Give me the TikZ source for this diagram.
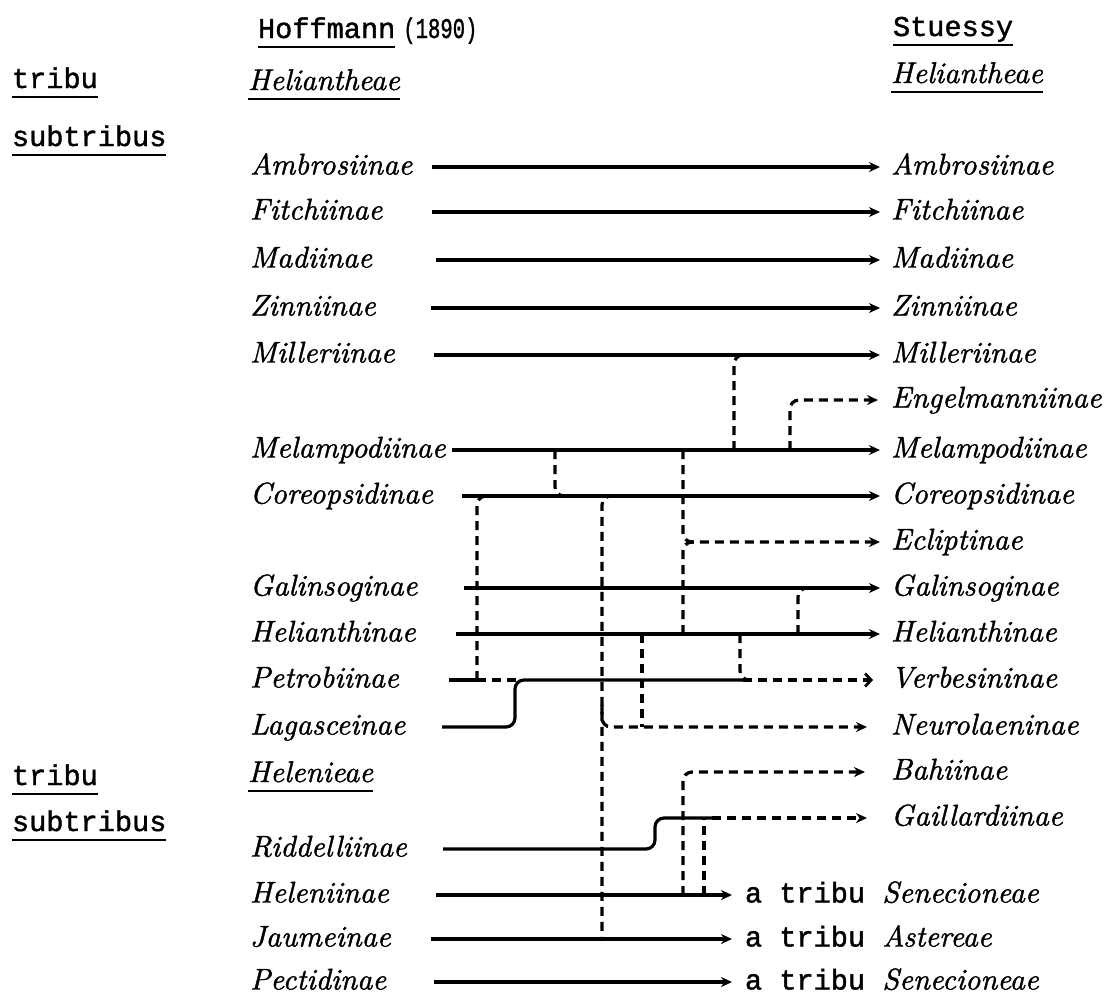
\documentclass[tikz,border=0pt]{standalone}
\usepackage{fontspec}
\newfontfamily\tw{Liberation Mono}[FakeBold=1.4]
\newfontfamily\scfam{lmroman10-italic.otf}[FakeBold=1.2]
\newcommand\scf{\fontsize{15}{18}\selectfont\scfam}
\usetikzlibrary{arrows.meta}
\tikzset{
  sc/.style={inner sep=0pt, outer sep=0pt, anchor=west, text height=11pt, text depth=3.5pt, font=\scf},
  tt/.style={inner sep=0pt, outer sep=0pt, anchor=west, text height=11pt, text depth=3.5pt, font=\fontsize{14.3}{17}\selectfont\tw},
  ln/.style={line width=1.6pt},
  dsh/.style={line width=1.6pt, dash pattern=on 4.5pt off 3pt},
  arr/.style={-{Stealth[length=5.5pt,width=5pt]}},
  oarr/.style={-{Straight Barb[length=3pt,width=6.5pt,line width=1.4pt]}},
  rc/.style={rounded corners=4.5pt},
  uline/.style={line width=1.3pt},
}
\begin{document}
\begin{tikzpicture}[x=0.5pt,y=-0.5pt]
\fill[white] (0,0) rectangle (1113,998);
\useasboundingbox (0,0) rectangle (1113,998);
% headers
\node[tt] (hoff) at (258,30.5) {Hoffmann};
\node[tt] (year) at ([xshift=4pt]hoff.east) {\scalebox{0.72}[1]{(1890)}};
\node[tt] (stu) at (893,28.5) {Stuessy};
\node[tt] (trib1) at (12,80.5) {tribu};
\node[sc] (hel1) at (248,82.5) {Heliantheae};
\node[sc] (hel2) at (891,75.5) {Heliantheae};
\node[tt] (subt1) at (12,138.5) {subtribus};
\node[tt] (trib2) at (12,777.5) {tribu};
\node[sc] (hel3) at (248,774.5) {Helenieae};
\node[tt] (subt2) at (12,823.5) {subtribus};
\foreach \n in {hoff,stu,trib1,hel1,hel2,subt1,trib2,hel3,subt2}
  \draw[uline] ([yshift=-1pt]\n.south west) -- ([yshift=-1pt]\n.south east);
% left labels
\node[sc] (L1) at (250,167) {Ambrosiinae};
\node[sc] (L2) at (250,212) {Fitchiinae};
\node[sc] (L3) at (250,260) {Madiinae};
\node[sc] (L4) at (250,308) {Zinniinae};
\node[sc] (L5) at (250,355) {Milleriinae};
\node[sc] (L7) at (250,450) {Melampodiinae};
\node[sc] (L8) at (250,496) {Coreopsidinae};
\node[sc] (L10) at (250,588) {Galinsoginae};
\node[sc] (L11) at (250,634) {Helianthinae};
\node[sc] (L12) at (250,680) {Petrobiinae};
\node[sc] (L13) at (250,727) {Lagasceinae};
\node[sc] (L16) at (250,849) {Riddelliinae};
\node[sc] (L17) at (250,895) {Heleniinae};
\node[sc] (L18) at (250,939) {Jaumeinae};
\node[sc] (L19) at (250,982) {Pectidinae};
% right labels
\node[sc] (R1) at (891,167) {Ambrosiinae};
\node[sc] (R2) at (891,212) {Fitchiinae};
\node[sc] (R3) at (891,260) {Madiinae};
\node[sc] (R4) at (891,308) {Zinniinae};
\node[sc] (R5) at (891,355) {Milleriinae};
\node[sc] (R6) at (891,400) {Engelmanniinae};
\node[sc] (R7) at (891,450) {Melampodiinae};
\node[sc] (R8) at (891,496) {Coreopsidinae};
\node[sc] (R9) at (891,542) {Ecliptinae};
\node[sc] (R10) at (891,588) {Galinsoginae};
\node[sc] (R11) at (891,634) {Helianthinae};
\node[sc] (R12) at (891,680) {Verbesininae};
\node[sc] (R13) at (891,727) {Neurolaeninae};
\node[sc] (R14) at (891,772) {Bahiinae};
\node[sc] (R15) at (891,818) {Gaillardiinae};
\node[tt] (B17) at (745,895) {a tribu {\scf Senecioneae}};
\node[tt] (B18) at (745,939) {a tribu {\scf Astereae}};
\node[tt] (B19) at (745,982) {a tribu {\scf Senecioneae}};
% line starts
\coordinate (s1) at (432,167);
\coordinate (s2) at (432,212);
\coordinate (s3) at (436,260);
\coordinate (s4) at (431,308);
\coordinate (s5) at (434,355);
\coordinate (s7) at (452,450);
\coordinate (s8) at (462,496);
\coordinate (s10) at (464,588);
\coordinate (s11) at (456,634);
\coordinate (s12) at (449,680);
\coordinate (s13) at (442,727);
\coordinate (s16) at (443,849);
\coordinate (s17) at (436,895);
\coordinate (s18) at (431,939);
\coordinate (s19) at (434,982);
% straight solid arrows
\foreach \i in {1,2,3,4,5,7,8,10,11}
  \draw[ln,arr] (s\i) -- ([xshift=-5.5pt]R\i.west);
\draw[ln,arr] (s17) -- ([xshift=-6.5pt]B17.west);
\draw[ln,arr] (s18) -- ([xshift=-6.5pt]B18.west);
\draw[ln,arr] (s19) -- ([xshift=-6.5pt]B19.west);
% branch points
\coordinate (bMil) at (734,450);
\coordinate (bEng) at (790,450);
\coordinate (bCor) at (555,450);
\coordinate (kPet) at (477,680);
\coordinate (jVer) at (743,680);
\coordinate (bVer) at (740,634);
\coordinate (bJau) at (615,496);
\coordinate (jJau) at (602,939);
\coordinate (jNeu) at (602,727);
\coordinate (bNeu) at (642,634);
\coordinate (bEc1) at (683,450);
\coordinate (bEc2) at (683,634);
\coordinate (bGal) at (798,634);
\coordinate (jGai) at (712,818);
\coordinate (bBah) at (683,895);
\coordinate (bGa2) at (704,895);
% Melampodiinae -> Milleriinae
\draw[dsh,rc] (bMil) -- (bMil |- R5.west) -- ++(16,0);
% Melampodiinae -> Engelmanniinae
\draw[dsh,arr,rc] (bEng) |- ([xshift=-6.5pt]R6.west);
% Melampodiinae -> Coreopsidinae
\draw[dsh,rc] (bCor) -- (bCor |- R8.west) -- ++(17,0);
% Petrobiinae
\draw[ln] (s12) -- (kPet);
\draw[dsh,rc] (kPet) -- (kPet |- R8.west) -- ++(18,0);
\draw[dsh] (kPet) -- ++(45,0);
% Lagasceinae step
\draw[ln,rc] (s13) -- ++(73,0) -- ++(0,-47) -- (jVer);
\draw[dsh,oarr] (jVer) -- ([xshift=-9pt]R12.west);
\draw[dsh,rc] (bVer) -- (bVer |- R12.west) -- ++(15,0);
% Coreopsidinae -> Jaumeinae / Neurolaeninae
\draw[dsh,rc] (bJau) -- (jJau |- bJau) -- (jJau);
\draw[dsh,arr,rc] ([yshift=11pt]jNeu) -- (jNeu) -- ([xshift=-12pt]R13.west);
\draw[dsh] (bNeu) -- (bNeu |- R13.west);
% Ecliptinae
\draw[dsh,arr,rc] (bEc1) |- ([xshift=-5.5pt]R9.west);
\draw[dsh,rc] (bEc2) -- (bEc2 |- R9.west) -- ++(15,0);
% Helianthinae -> Galinsoginae
\draw[dsh,rc] (bGal) -- (bGal |- R10.west) -- ++(17,0);
% Riddelliinae step
\draw[ln,rc] (s16) -- ++(212,0) -- ++(0,-31) -- (jGai);
\draw[dsh,arr] (jGai) -- ([xshift=-12pt]R15.west);
% Heleniinae -> Bahiinae, Gaillardiinae
\draw[dsh,arr,rc] (bBah) |- ([xshift=-13pt]R14.west);
\draw[dsh] (bGa2) -- (bGa2 |- R15.west);
\end{tikzpicture}
\end{document}
